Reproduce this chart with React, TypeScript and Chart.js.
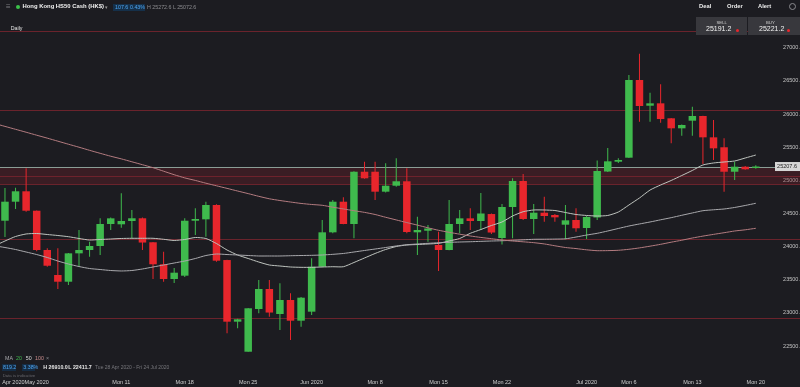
import React, { useEffect, useRef } from "react";
import { Chart, registerables } from "chart.js";

Chart.register(...registerables);

// ---- Daily candles, Tue 28 Apr 2020 ... Mon 20 Jul 2020 (index 0..71) ----
const opens = [
  24390, 24677, 24834, 24541, 23948, 23571, 23470, 23898, 23948, 24009,
  24341, 24336, 24386, 24427, 24065, 23733, 23511, 23561, 24390, 24411,
  24627, 23797, 22867, 22414, 23058, 23360, 22983, 23194, 22882, 23018,
  23696, 24215, 24677, 24341, 25129, 25129, 24828, 24918, 24985, 24215,
  24239, 24024, 23948, 24341, 24426, 24386, 24491, 24129, 24597, 24989,
  24416, 24511, 24476, 24330, 24401, 24280, 24439, 25132, 25280, 25341,
  26513, 26125, 26161, 25935, 25784, 25899, 25970, 25648, 25498, 25129,
  25205, 25185,
];
const highs = [
  24884, 24888, 25181, 24545, 23975, 23974, 23905, 24250, 24074, 24426,
  24440, 24804, 24552, 24440, 24070, 23923, 23677, 24426, 24577, 24677,
  24640, 23800, 22910, 23075, 23496, 23496, 23446, 23295, 23240, 23823,
  24401, 24703, 24743, 25135, 25280, 25280, 25256, 25332, 25181, 24451,
  24325, 24224, 24703, 24552, 24577, 24808, 24500, 24642, 25030, 25095,
  24642, 24752, 24491, 24627, 24577, 24461, 25298, 25487, 25332, 26588,
  26910, 26321, 26448, 25940, 25840, 26110, 25975, 25909, 25633, 25280,
  25215, 25225,
];
const lows = [
  24144, 24567, 24526, 23930, 23696, 23360, 23420, 23696, 23847, 23873,
  24250, 24285, 24125, 23948, 23512, 23470, 23450, 23541, 24175, 24149,
  23770, 22692, 22767, 22411.7, 22993, 22942, 22741, 22591, 22791, 22968,
  23690, 24200, 24335, 24125, 25025, 24703, 24815, 24903, 24200, 23873,
  24073, 23632, 23945, 24200, 24250, 24250, 24190, 24031, 24125, 24401,
  24190, 24375, 24375, 24110, 24224, 24114, 24401, 25125, 25261, 25336,
  25884, 25884, 25869, 25558, 25672, 25672, 25246, 25306, 24828, 25004,
  25160, 25175,
];
const closes = [
  24677, 24834, 24541, 23948, 23711, 23470, 23898, 23948, 24009, 24341,
  24426, 24386, 24427, 24061, 23733, 23511, 23606, 24390, 24416, 24627,
  23787, 22867, 22903, 23069, 23360, 23005, 23194, 22882, 23229, 23696,
  24215, 24677, 24341, 25129, 25030, 24828, 24918, 24985, 24220, 24250,
  24273, 23948, 24341, 24426, 24386, 24499, 24212, 24597, 24989, 24416,
  24511, 24461, 24441, 24396, 24276, 24446, 25140, 25286, 25306, 26513,
  26121, 26161, 25924, 25784, 25834, 25970, 25648, 25482, 25129, 25205,
  25166, 25207.6,
];

// ---- Moving averages: first value belongs to the session before the first candle (index -1) ----
const ma20 = [
  24010,
  24084, 24152, 24190, 24197, 24182, 24167, 24149, 24122, 24099, 24107,
  24114, 24122, 24125, 24125, 24125, 24110, 24092, 24107, 24137, 24122,
  24046, 23948, 23873, 23820, 23767, 23722, 23707, 23692, 23687, 23687,
  23692, 23696, 23696, 23760, 23828, 23896, 23956, 24001, 24024, 24031,
  24039, 24049, 24084, 24122, 24200, 24257, 24318, 24371, 24461, 24526,
  24552, 24552, 24544, 24514, 24484, 24469, 24461, 24469, 24521, 24627,
  24733, 24853, 24929, 24997, 25072, 25148, 25231, 25261, 25276, 25291,
  25336, 25381,
];
const ma50 = [
  24012,
  23986, 23956, 23918, 23880, 23835, 23782, 23737, 23699, 23669, 23654,
  23639, 23632, 23639, 23662, 23692, 23722, 23752, 23782, 23820, 23865,
  23888, 23880, 23873, 23865, 23858, 23858, 23858, 23862, 23865, 23868,
  23873, 23883, 23896, 23918, 23941, 23963, 23986, 24009, 24028, 24039,
  24049, 24058, 24064, 24069, 24073, 24079, 24084, 24088, 24095, 24102,
  24110, 24111, 24113, 24117, 24144, 24174, 24200, 24235, 24273, 24310,
  24341, 24371, 24404, 24436, 24472, 24507, 24541, 24555, 24567, 24590,
  24620, 24653,
];
const ma100 = [
  25857,
  25813, 25769, 25725, 25680, 25636, 25590, 25544, 25499, 25452, 25407,
  25363, 25323, 25279, 25235, 25190, 25137, 25084, 25036, 24998, 24956,
  24917, 24878, 24838, 24799, 24758, 24721, 24695, 24672, 24651, 24635,
  24623, 24594, 24568, 24541, 24516, 24484, 24442, 24402, 24362, 24324,
  24283, 24246, 24215, 24187, 24160, 24138, 24119, 24099, 24084, 24072,
  24059, 24040, 24012, 23986, 23970, 23951, 23938, 23939, 23944, 23959,
  23980, 24006, 24034, 24066, 24096, 24129, 24158, 24184, 24209, 24235,
  24253, 24276,
];

// ---- Axes ----
const yTicks = [22500, 23000, 23500, 24000, 24500, 25000, 25500, 26000, 26500, 27000];
const xTickIdx = [0.8, 3, 11, 17, 23, 29, 35, 41, 47, 55, 59, 65, 71];
const xTickLabels = [
  "Apr 2020", "May 2020", "Mon 11", "Mon 18", "Mon 25", "Jun 2020", "Mon 8",
  "Mon 15", "Mon 22", "Jul 2020", "Mon 6", "Mon 13", "Mon 20",
];
const xView = [-0.47, 75.18];
const yView = [22032.6, 27719.6];

// ---- Levels ----
const levelLines = [27245, 26060, 24114, 22920];
const zoneBand = [25193, 25072, 24944];
const lastPrice = 25207.6;

const BG = "#1c1c21";
const GREEN = "#3fba4d";
const RED = "#e8262c";
const FONT = "'Liberation Sans', Arial, sans-serif";

const levelsPlugin = {
  id: "levels",
  beforeDatasetsDraw(chart: any) {
    const { ctx, chartArea, scales } = chart;
    const y = scales.y;
    const { left, right } = chartArea;
    ctx.save();
    const t = y.getPixelForValue(zoneBand[0]);
    const b = y.getPixelForValue(zoneBand[2]);
    ctx.fillStyle = "rgba(120, 32, 44, 0.33)";
    ctx.fillRect(left, t, right - left, b - t);
    ctx.strokeStyle = "rgba(120, 36, 46, 0.85)";
    ctx.lineWidth = 1;
    const all = [...levelLines, ...zoneBand];
    all.forEach((v) => {
      const p = Math.round(y.getPixelForValue(v)) + 0.5;
      ctx.beginPath();
      ctx.moveTo(left, p);
      ctx.lineTo(right, p);
      ctx.stroke();
    });
    const lp = Math.round(y.getPixelForValue(lastPrice)) + 0.5;
    ctx.strokeStyle = "#8a9e96";
    ctx.beginPath();
    ctx.moveTo(left, lp);
    ctx.lineTo(right, lp);
    ctx.stroke();
    ctx.restore();
  },
  afterDraw(chart: any) {
    const { ctx, chartArea, scales } = chart;
    const y = scales.y;
    const lp = y.getPixelForValue(lastPrice);
    ctx.save();
    ctx.fillStyle = "#d6d6d6";
    ctx.fillRect(chartArea.right - 25, lp - 4.5, 25, 9);
    ctx.fillStyle = "#222";
    ctx.font = `5.5px ${FONT}`;
    ctx.textAlign = "right";
    ctx.textBaseline = "middle";
    ctx.fillText(lastPrice.toFixed(1), chartArea.right - 3, lp + 0.3);
    ctx.restore();
  },
};

function Txt(props: { x: number; y: number; s: number; c: string; b?: boolean; children: any; bg?: string }) {
  const { x, y, s, c, b, bg } = props;
  return (
    <span
      style={{
        position: "absolute",
        left: x,
        top: y - s * 0.6,
        fontSize: s,
        lineHeight: `${s * 1.2}px`,
        color: c,
        fontWeight: b ? 700 : 400,
        whiteSpace: "nowrap",
        fontFamily: FONT,
        background: bg,
        padding: bg ? "0 1px" : undefined,
      }}
    >
      {props.children}
    </span>
  );
}

const noPad = (s: any) => {
  s.paddingTop = 0;
  s.paddingBottom = 0;
  s.paddingLeft = 0;
  s.paddingRight = 0;
};

export default function App() {
  const ref = useRef<HTMLCanvasElement | null>(null);

  useEffect(() => {
    if (!ref.current) return;
    const colors = opens.map((o, i) => (closes[i] >= o ? GREEN : RED));
    const line = (vals: number[], color: string) => ({
      type: "line" as const,
      data: vals.map((v, i) => ({ x: i - 1, y: v })),
      borderColor: color,
      borderWidth: 1,
      pointRadius: 0,
      tension: 0.2,
      order: 0,
    });
    const chart = new Chart(ref.current, {
      type: "bar",
      data: {
        datasets: [
          line(ma100, "#b47c80") as any,
          line(ma50, "#a9a9ad") as any,
          line(ma20, "#bfc4bf") as any,
          {
            type: "bar",
            data: opens.map((o, i) => ({ x: i, y: [o, closes[i]] })),
            backgroundColor: colors,
            barThickness: 7.5,
            grouped: false,
            minBarLength: 1,
            inflateAmount: 0,
            borderWidth: 0,
            order: 1,
          } as any,
          {
            type: "bar",
            data: lows.map((l, i) => ({ x: i, y: [l, highs[i]] })),
            backgroundColor: colors,
            barThickness: 1,
            grouped: false,
            inflateAmount: 0,
            borderWidth: 0,
            order: 2,
          } as any,
        ],
      },
      options: {
        animation: false,
        responsive: false,
        events: [],
        layout: { padding: 0 },
        plugins: { legend: { display: false }, tooltip: { enabled: false } },
        scales: {
          x: {
            type: "linear",
            min: xView[0],
            max: xView[1],
            offset: false,
            grid: { display: false, drawTicks: false },
            border: { display: false },
            afterBuildTicks: (s: any) => {
              s.ticks = xTickIdx.map((v) => ({ value: v }));
            },
            afterFit: (s: any) => {
              s.height = 10;
              noPad(s);
            },
            ticks: {
              autoSkip: false,
              maxRotation: 0,
              padding: 2,
              color: "#cfcfcf",
              font: { size: 5.5, family: FONT },
              callback: (_v: any, idx: number) => xTickLabels[idx],
            },
          } as any,
          y: {
            type: "linear",
            position: "right",
            min: yView[0],
            max: yView[1],
            z: 1,
            grid: { display: false, drawTicks: false },
            border: { display: false },
            afterBuildTicks: (s: any) => {
              s.ticks = yTicks.map((v) => ({ value: v }));
            },
            afterFit: (s: any) => {
              s.width = 0;
              noPad(s);
            },
            ticks: {
              mirror: true,
              padding: 3,
              color: "#c4c4c4",
              font: { size: 5.5, family: FONT },
              callback: (v: any) => Number(v).toFixed(1),
            },
          } as any,
        },
      },
      plugins: [levelsPlugin],
    });
    return () => chart.destroy();
  }, []);

  return (
    <div style={{ position: "fixed", left: 0, top: 0, width: 800, height: 387, background: BG, overflow: "hidden" }}>
      <canvas ref={ref} width={800} height={387} style={{ position: "absolute", left: 0, top: 0, display: "block" }} />
      {/* header left */}
      <Txt x={6} y={6.5} s={8} c="#7c7c80">≡</Txt>
      <span style={{ position: "absolute", left: 16, top: 4.5, width: 4, height: 4, borderRadius: 2, background: "#3cc24a" }} />
      <Txt x={22.5} y={6.7} s={5.9} c="#f0f0f0" b>Hong Kong HS50 Cash (HK$)</Txt>
      <Txt x={105} y={6.7} s={5} c="#9a9a9a">▾</Txt>
      <span style={{ position: "absolute", left: 113, top: 3.5, width: 32, height: 7, background: "#15304a" }} />
      <Txt x={115} y={6.9} s={5.3} c="#4ea6f2">107.6</Txt>
      <Txt x={130} y={6.9} s={5.3} c="#4ea6f2">0.43%</Txt>
      <Txt x={147} y={6.9} s={5.3} c="#8e8e92">H 25272.6 L 25072.6</Txt>
      <Txt x={10.7} y={28.3} s={5.3} c="#e2e2e2">Daily</Txt>
      {/* header right */}
      <Txt x={699} y={6.5} s={5.8} c="#ececec" b>Deal</Txt>
      <Txt x={727} y={6.5} s={5.8} c="#ececec" b>Order</Txt>
      <Txt x={758} y={6.5} s={5.8} c="#ececec" b>Alert</Txt>
      <span style={{ position: "absolute", left: 788.5, top: 2.5, width: 7, height: 7, borderRadius: 4, border: "1px solid #8a8a8e", boxSizing: "border-box" }} />
      <span style={{ position: "absolute", left: 696, top: 16.7, width: 51, height: 18.3, background: "#38383d" }} />
      <span style={{ position: "absolute", left: 748, top: 16.7, width: 52, height: 18.3, background: "#38383d" }} />
      <Txt x={716.5} y={22.3} s={4.3} c="#d0d0d0">SELL</Txt>
      <Txt x={706} y={29.3} s={7} c="#f2f2f2">25191.2</Txt>
      <span style={{ position: "absolute", left: 736, top: 28.5, width: 3, height: 3, borderRadius: 2, background: "#e8262c" }} />
      <Txt x={766} y={22.3} s={4.3} c="#d0d0d0">BUY</Txt>
      <Txt x={759} y={29.3} s={7} c="#f2f2f2">25221.2</Txt>
      <span style={{ position: "absolute", left: 787, top: 28.5, width: 3, height: 3, borderRadius: 2, background: "#e8262c" }} />
      {/* bottom legend */}
      <Txt x={5} y={358.3} s={5.3} c="#a8a8ac">MA</Txt>
      <Txt x={16} y={358.3} s={5.3} c="#41b84f">20</Txt>
      <Txt x={25.7} y={358.3} s={5.3} c="#d8d8d8">50</Txt>
      <Txt x={35} y={358.3} s={5.3} c="#c98d8d">100</Txt>
      <Txt x={46} y={358.3} s={5.3} c="#8a8a8e">×</Txt>
      <span style={{ position: "absolute", left: 1.5, top: 364, width: 14, height: 6.6, background: "#152c44" }} />
      <span style={{ position: "absolute", left: 22, top: 364, width: 13, height: 6.6, background: "#152c44" }} />
      <Txt x={3} y={367.3} s={5.3} c="#4ea6f2">819.2</Txt>
      <Txt x={23.3} y={367.3} s={5.3} c="#4ea6f2">3.38%</Txt>
      <Txt x={43.3} y={367.3} s={5.3} c="#e6e6e6" b>H 26910.0</Txt>
      <Txt x={68.3} y={367.3} s={5.3} c="#e6e6e6" b>L 22411.7</Txt>
      <Txt x={95} y={367.3} s={5} c="#77777c">Tue 28 Apr 2020 - Fri 24 Jul 2020</Txt>
      <Txt x={2.7} y={375.7} s={4.3} c="#66666b">Data is indicative</Txt>
    </div>
  );
}
